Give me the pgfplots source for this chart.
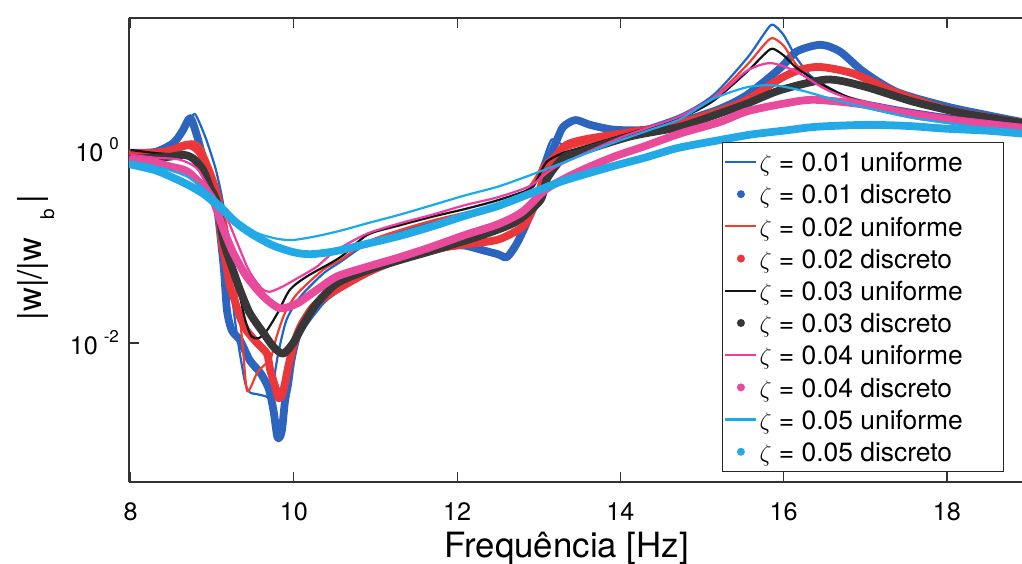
\documentclass[border=0pt]{standalone}
\usepackage{fontspec}
\setmainfont{TeX Gyre Heros}
\usepackage{pgfplots}
\pgfplotsset{compat=1.18}
\definecolor{cA}{RGB}{30,100,205}
\definecolor{cAd}{RGB}{45,100,190}
\definecolor{cB}{RGB}{245,60,45}
\definecolor{cBd}{RGB}{235,55,60}
\definecolor{cC}{RGB}{20,20,20}
\definecolor{cCd}{RGB}{55,55,55}
\definecolor{cD}{RGB}{240,60,160}
\definecolor{cDd}{RGB}{232,75,155}
\definecolor{cE}{RGB}{25,170,235}
\definecolor{cEd}{RGB}{35,170,230}
\newcommand{\LE}[1]{\makebox[121pt][l]{#1}}
\begin{document}
\begin{tikzpicture}
\begin{axis}[
  scale only axis, width=446.5pt, height=232pt,
  ymode=log,
  xmin=7.98, xmax=18.92, ymin=3.63e-4, ymax=23.3,
  axis y line*=left, axis x line*=box,
  xtick={8,10,12,14,16,18},
  ytick={0.01,1},
  yticklabels={{10\hspace{3pt}\raisebox{6pt}{\fontsize{8.5}{9}\selectfont -2}},{10\hspace{3pt}\raisebox{6pt}{\fontsize{8.5}{9}\selectfont 0}}},
  xminorticks=false, yminorticks=false,
  major tick length=5pt,
  tick style={black!80, line width=0.6pt},
  axis line style={black!80, line width=0.6pt},
  tick label style={font=\fontsize{12.6}{14}\selectfont},
  /pgf/number format/assume math mode=true,
  xticklabel style={yshift=-7pt},
  yticklabel style={xshift=-1.5pt},
  xlabel={Frequência [Hz]},
  xlabel style={at={(axis description cs:0.49,0)}, anchor=base, yshift=-37.5pt, font=\fontsize{17.4}{20}\selectfont},
  ylabel={|w|/|w\hspace{9pt}\raisebox{-6.5pt}{\fontsize{9.5}{10}\selectfont b}\hspace{3pt}|},
  ylabel style={at={(axis description cs:-0.0985,0.484)}, anchor=base, font=\fontsize{16.5}{19}\selectfont},
  legend style={at={(0.98,0.0216)}, anchor=south east, draw=black!85, line width=0.6pt, fill=white,
    inner xsep=1pt, inner ysep=3.3pt, row sep=3.1pt, column sep=1pt,
    font=\fontsize{13.2}{15}\selectfont,
    nodes={inner sep=0pt, text height=11.4pt, text depth=1.6pt}},
  legend cell align=left,
  uni/.style={line width=1.1pt, smooth, tension=0.45, line join=round,
    legend image code/.code={\draw[##1, line width=1.1pt] (0pt,0pt) -- (15.5pt,0pt);}},
  dis/.style={line width=3.9pt, smooth, tension=0.45, line cap=round, line join=round,
    legend image code/.code={\path[draw=none, fill=.] (7.75pt,0pt) circle (2pt);}},
]
% zeta = 0.01 uniforme
\addplot[uni, cA] coordinates {
(8.00,0.955) (8.30,0.955) (8.48,1.072) (8.58,1.259) (8.65,1.622) (8.73,2.138) (8.79,2.344)
(8.86,1.778) (8.93,1.259) (9.00,0.832) (9.055,0.575) (9.14,0.251) (9.20,0.0631) (9.30,0.0126)
(9.40,0.00398) (9.46,0.00309) (9.55,0.00295) (9.65,0.00282) (9.71,0.00275) (9.76,0.00447)
(9.81,0.00794) (9.91,0.0174) (10.08,0.0302) (10.36,0.0525) (10.57,0.0692) (10.90,0.107)
(11.30,0.141) (11.70,0.178) (12.10,0.214) (12.50,0.257) (12.80,0.331) (12.95,0.468)
(13.05,0.759) (13.16,1.288) (13.30,1.122) (13.50,1.148) (14.10,1.514) (14.73,2.291)
(15.14,3.715) (15.55,8.913) (15.75,15.49) (15.86,19.95) (16.00,15.49) (16.16,8.913)
(16.37,5.495) (16.78,3.548) (17.20,2.951) (17.60,2.570) (18.00,2.291) (18.50,2.089) (18.92,1.950)};
\addlegendentry{\LE{$\zeta$ = 0.01 uniforme}}
% zeta = 0.01 discreto
\addplot[dis, cAd] coordinates {
(8.00,0.933) (8.30,0.955) (8.52,1.175) (8.63,1.549) (8.73,2.138) (8.81,1.429) (8.87,0.933)
(8.93,0.617) (8.99,0.457) (9.06,0.251) (9.14,0.0617) (9.18,0.0219) (9.24,0.0135) (9.34,0.0107)
(9.46,0.00661) (9.59,0.00490) (9.69,0.00339) (9.75,0.00200) (9.80,0.00105) (9.85,0.00120)
(9.89,0.00245) (9.93,0.00380) (9.97,0.00661) (10.04,0.01175) (10.16,0.0174) (10.36,0.0282)
(10.57,0.0380) (10.90,0.0562) (11.30,0.0759) (11.70,0.0955) (11.91,0.102) (12.10,0.102)
(12.32,0.0912) (12.50,0.0832) (12.61,0.0776) (12.73,0.107) (12.85,0.174) (12.94,0.282)
(13.02,0.389) (13.10,0.724) (13.22,1.259) (13.30,1.738) (13.45,2.042) (13.63,1.820)
(13.92,1.622) (14.32,1.622) (14.73,1.950) (15.20,2.630) (15.55,3.715) (15.96,7.079)
(16.16,10.47) (16.45,12.30) (16.69,10.47) (16.98,6.457) (17.39,3.981) (18.00,2.818)
(18.50,2.291) (18.92,1.950)};
\addlegendentry{\LE{$\zeta$ = 0.01 discreto}}
% zeta = 0.02 uniforme
\addplot[uni, cB] coordinates {
(8.00,0.977) (8.30,1.0) (8.48,1.047) (8.62,1.175) (8.75,1.230) (8.82,1.175) (8.89,1.0)
(9.01,0.575) (9.10,0.331) (9.20,0.126) (9.26,0.0525) (9.34,0.0174) (9.38,0.00794)
(9.43,0.00316) (9.55,0.00490) (9.65,0.00603) (9.71,0.00661) (9.79,0.01175) (9.89,0.0204)
(10.04,0.0324) (10.36,0.0575) (10.57,0.0724) (10.90,0.112) (11.30,0.148) (11.70,0.186)
(12.10,0.224) (12.50,0.269) (12.80,0.347) (12.95,0.501) (13.05,0.708) (13.22,0.933)
(13.51,1.122) (14.10,1.479) (14.73,2.138) (15.14,3.467) (15.55,7.586) (15.75,12.02)
(15.86,14.45) (16.00,12.02) (16.16,7.586) (16.45,4.677) (16.78,3.548) (17.20,2.884)
(17.60,2.512) (18.00,2.239) (18.50,2.042) (18.92,1.905)};
\addlegendentry{\LE{$\zeta$ = 0.02 uniforme}}
% zeta = 0.02 discreto
\addplot[dis, cBd] coordinates {
(8.00,0.912) (8.30,0.933) (8.50,1.0) (8.65,1.096) (8.73,1.122) (8.85,0.933) (8.97,0.525)
(9.06,0.316) (9.12,0.107) (9.16,0.0724) (9.22,0.0380) (9.26,0.0302) (9.34,0.0186)
(9.42,0.0135) (9.55,0.0100) (9.67,0.00776) (9.71,0.00525) (9.77,0.00355) (9.81,0.00269)
(9.85,0.00282) (9.89,0.00380) (9.93,0.00562) (9.99,0.00912) (10.08,0.0148) (10.24,0.0240)
(10.44,0.0324) (10.90,0.0537) (11.30,0.0741) (11.70,0.0912) (11.91,0.100) (12.30,0.110)
(12.53,0.120) (12.81,0.162) (12.94,0.257) (13.10,0.617) (13.30,1.072) (13.51,1.259)
(13.92,1.445) (14.32,1.622) (14.73,1.905) (15.20,2.512) (15.55,3.311) (15.96,5.495)
(16.20,6.761) (16.45,7.244) (16.86,6.166) (17.39,3.890) (18.00,2.630) (18.50,2.188) (18.92,1.905)};
\addlegendentry{\LE{$\zeta$ = 0.02 discreto}}
% zeta = 0.03 uniforme
\addplot[uni, cC] coordinates {
(8.00,1.0) (8.28,0.933) (8.56,0.891) (8.69,0.851) (8.81,0.676) (8.93,0.447) (9.01,0.331)
(9.10,0.240) (9.20,0.112) (9.30,0.0447) (9.40,0.0178) (9.48,0.01175) (9.57,0.01122)
(9.67,0.0135) (9.80,0.0204) (9.95,0.0355) (10.16,0.0490) (10.57,0.0776) (10.90,0.132)
(11.30,0.166) (11.70,0.204) (12.10,0.245) (12.50,0.302) (12.90,0.398) (13.00,0.537)
(13.10,0.759) (13.30,0.933) (13.50,1.047) (14.10,1.479) (14.73,2.138) (15.14,3.236)
(15.55,6.457) (15.75,9.550) (15.86,11.22) (16.00,9.550) (16.16,7.079) (16.45,4.898)
(16.78,3.548) (17.20,2.818) (17.60,2.455) (18.00,2.239) (18.50,2.042) (18.92,1.905)};
\addlegendentry{\LE{$\zeta$ = 0.03 uniforme}}
% zeta = 0.03 discreto
\addplot[dis, cCd] coordinates {
(8.00,0.813) (8.30,0.832) (8.48,0.851) (8.65,0.891) (8.77,0.813) (8.89,0.617) (8.97,0.417)
(9.06,0.282) (9.14,0.112) (9.24,0.0617) (9.34,0.0355) (9.46,0.0204) (9.63,0.0126)
(9.75,0.00912) (9.87,0.00776) (9.99,0.0100) (10.12,0.0158) (10.28,0.0257) (10.53,0.0417)
(10.89,0.0562) (11.30,0.0724) (11.71,0.0912) (12.32,0.132) (12.73,0.182) (13.02,0.302)
(13.10,0.501) (13.30,0.832) (13.51,0.955) (14.12,1.380) (14.73,1.738) (15.22,2.399)
(15.55,3.020) (15.96,4.169) (16.53,5.370) (16.98,4.571) (17.59,3.162) (18.20,2.399) (18.92,1.905)};
\addlegendentry{\LE{$\zeta$ = 0.03 discreto}}
% zeta = 0.04 uniforme
\addplot[uni, cD] coordinates {
(8.00,0.891) (8.30,0.832) (8.60,0.794) (8.81,0.646) (8.97,0.389) (9.15,0.224) (9.30,0.112)
(9.45,0.0562) (9.60,0.0372) (9.70,0.0339) (9.85,0.0380) (10.00,0.0447) (10.28,0.0617)
(10.50,0.0891) (10.89,0.135) (11.30,0.174) (11.70,0.214) (12.10,0.269) (12.50,0.324)
(12.90,0.427) (13.20,0.661) (13.92,1.259) (14.30,1.660) (14.73,2.239) (15.20,3.715)
(15.55,6.607) (15.84,7.943) (16.16,6.457) (16.49,4.365) (16.78,3.467) (17.20,2.884)
(17.60,2.512) (18.00,2.239) (18.50,1.995) (18.92,1.820)};
\addlegendentry{\LE{$\zeta$ = 0.04 uniforme}}
% zeta = 0.04 discreto
\addplot[dis, cDd] coordinates {
(8.00,0.794) (8.30,0.741) (8.48,0.676) (8.69,0.603) (8.89,0.417) (9.01,0.302) (9.14,0.148)
(9.26,0.0851) (9.42,0.0490) (9.63,0.0302) (9.83,0.0229) (10.04,0.0257) (10.28,0.0355)
(10.53,0.0490) (10.90,0.0617) (11.30,0.0776) (11.70,0.100) (12.10,0.132) (12.50,0.170)
(12.80,0.229) (13.10,0.398) (13.50,0.603) (13.92,0.851) (14.30,1.096) (14.73,1.479)
(15.22,1.950) (15.55,2.512) (16.00,3.020) (16.37,3.311) (16.98,2.951) (17.59,2.291)
(18.20,1.950) (18.92,1.660)};
\addlegendentry{\LE{$\zeta$ = 0.04 discreto}}
% zeta = 0.05 uniforme
\addplot[uni, cE] coordinates {
(8.00,0.759) (8.30,0.676) (8.70,0.525) (9.10,0.282) (9.30,0.191) (9.55,0.138) (9.80,0.120)
(10.00,0.117) (10.30,0.129) (10.60,0.148) (10.90,0.174) (11.30,0.214) (11.70,0.269)
(12.10,0.339) (12.50,0.417) (12.90,0.550) (13.30,0.741) (13.90,1.175) (14.30,1.549)
(14.73,2.089) (15.14,3.388) (15.55,4.467) (15.88,4.677) (16.20,4.169) (16.50,3.548)
(16.80,3.020) (17.20,2.512) (17.60,2.138) (18.00,1.905) (18.50,1.660) (18.92,1.479)};
\addlegendentry{\LE{$\zeta$ = 0.05 uniforme}}
% zeta = 0.05 discreto
\addplot[dis, cEd] coordinates {
(8.00,0.708) (8.30,0.617) (8.50,0.525) (8.70,0.437) (8.90,0.347) (9.10,0.251) (9.30,0.174)
(9.50,0.132) (9.75,0.102) (10.00,0.0871) (10.20,0.0832) (10.50,0.0891) (10.90,0.107)
(11.30,0.129) (11.70,0.162) (12.10,0.209) (12.50,0.263) (12.90,0.355) (13.30,0.479)
(13.90,0.676) (14.30,0.832) (14.70,1.047) (15.20,1.259) (15.60,1.445) (16.00,1.585)
(16.40,1.738) (17.00,1.820) (17.50,1.778) (18.00,1.660) (18.50,1.585) (18.92,1.479)};
\addlegendentry{\LE{$\zeta$ = 0.05 discreto}}
\end{axis}
\pgfresetboundingbox
\path[use as bounding box] (-64.5pt,-40.5pt) rectangle (446.5pt,241pt);
\end{tikzpicture}
\end{document}
